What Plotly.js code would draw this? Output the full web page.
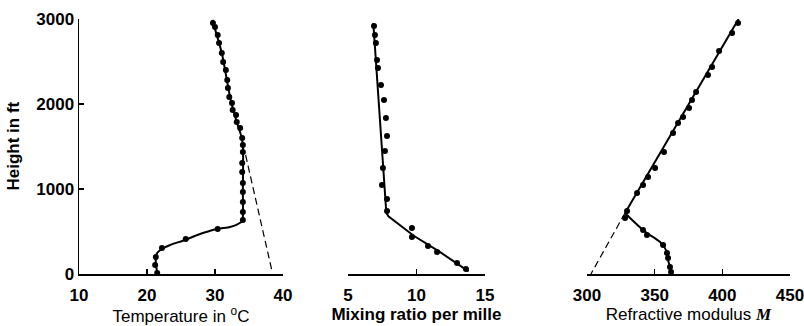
<!DOCTYPE html>
<html>
<head>
<meta charset="utf-8">
<script src="https://cdn.plot.ly/plotly-3.0.1.min.js"></script>
<style>html,body{margin:0;padding:0;background:#fff;}#chart{width:804px;height:326px;}</style>
</head>
<body>
<div id="chart"></div>
<script>
// ---- Panel 1: temperature (°C) vs height (ft) ----
var tempObsT = [29.7, 30.0, 30.4, 30.6, 31.0, 31.2, 31.6, 31.8, 31.9, 32.1, 32.5, 32.6, 33.1, 33.2, 33.7, 34.0, 34.1, 34.1, 34.0, 34.0, 34.1, 34.1, 34.1, 34.1, 34.1, 30.4, 25.7, 22.2, 21.3, 21.2, 21.5];
var tempObsH = [2953, 2906, 2812, 2718, 2600, 2494, 2400, 2282, 2188, 2082, 2012, 1929, 1871, 1788, 1718, 1600, 1518, 1435, 1306, 1200, 1071, 965, 847, 729, 635, 529, 412, 306, 200, 106, 12];
var tempFitT = [29.6, 31.0, 32.3, 33.2, 33.8, 34.1, 34.1, 34.1, 34.0, 33.3, 32.2, 30.3, 27.4, 25.6, 23.4, 22.2, 21.5, 21.3, 21.3, 21.5];
var tempFitH = [2990, 2600, 2050, 1790, 1640, 1520, 1000, 680, 620, 585, 553, 529, 459, 400, 341, 294, 247, 200, 130, 15];
var tempAdiabatT = [34.5, 38.4];
var tempAdiabatH = [1400, 30];

// ---- Panel 2: mixing ratio (per mille) vs height (ft) ----
var mixObsQ = [6.90, 6.97, 7.04, 7.12, 7.19, 7.41, 7.63, 7.77, 7.85, 7.70, 7.55, 7.48, 7.85, 7.85, 9.67, 9.67, 10.84, 11.50, 12.96, 13.61];
var mixObsH = [2918, 2812, 2718, 2518, 2424, 2224, 2047, 1835, 1624, 1447, 1247, 1047, 882, 741, 541, 435, 329, 259, 129, 59];
var mixFitQ = [6.85, 7.80, 7.95, 8.80, 9.80, 11.70, 13.80];
var mixFitH = [2950, 720, 680, 576, 450, 260, 30];

// ---- Panel 3: refractive modulus M vs height (ft) ----
var modObsM = [411.6, 407.2, 397.6, 392.4, 389.4, 380.6, 377.6, 375.4, 371.0, 367.3, 363.6, 356.9, 350.3, 345.1, 341.4, 337.0, 329.6, 328.1, 341.4, 344.3, 356.2, 359.1, 359.9, 361.3, 362.1];
var modObsH = [2953, 2835, 2624, 2435, 2341, 2141, 2047, 1953, 1847, 1776, 1659, 1435, 1247, 1141, 1047, 953, 741, 659, 518, 459, 341, 247, 188, 82, 24];
var modLineM = [412.0, 328.1];
var modLineH = [3000, 718];
var modCurveM = [328.1, 331.8, 341.4, 344.3, 354.0, 359.1, 359.9, 361.3, 362.1];
var modCurveH = [718, 659, 518, 482, 376, 259, 165, 82, 0];
var modDashM = [328.1, 302.9];
var modDashH = [718, 0];

// ---- axis ticks & titles ----
var heightTicks = [0, 1000, 2000, 3000];
var tempTicks = [10, 20, 30, 40];
var mixTicks = [5, 10, 15];
var modTicks = [300, 350, 400, 450];
var heightTitle = 'Height in ft';
var tempTitle = 'Temperature in <sup>o</sup>C';
var mixTitle = 'Mixing ratio per mille';
var modTitle = 'Refractive modulus <span style="font-family:\'Liberation Serif\',serif"><b><i>M</i></b></span>';

var FONT = 'Liberation Sans, Arial, sans-serif';
var marker = {color: '#000', size: 6, symbol: 'circle'};
var solid = {color: '#000', width: 2};
var dashed = {color: '#000', width: 1.2, dash: '7px,4px'};

var traces = [
  {x: tempAdiabatT, y: tempAdiabatH, xaxis: 'x', yaxis: 'y', mode: 'lines', line: dashed},
  {x: tempFitT, y: tempFitH, xaxis: 'x', yaxis: 'y', mode: 'lines', line: Object.assign({shape: 'spline', smoothing: 0.6}, solid)},
  {x: tempObsT, y: tempObsH, xaxis: 'x', yaxis: 'y', mode: 'markers', marker: marker},
  {x: mixFitQ, y: mixFitH, xaxis: 'x2', yaxis: 'y', mode: 'lines', line: solid},
  {x: mixObsQ, y: mixObsH, xaxis: 'x2', yaxis: 'y', mode: 'markers', marker: marker},
  {x: modDashM, y: modDashH, xaxis: 'x3', yaxis: 'y', mode: 'lines', line: dashed},
  {x: modLineM, y: modLineH, xaxis: 'x3', yaxis: 'y', mode: 'lines', line: solid},
  {x: modCurveM, y: modCurveH, xaxis: 'x3', yaxis: 'y', mode: 'lines', line: Object.assign({shape: 'spline', smoothing: 0.8}, solid)},
  {x: modObsM, y: modObsH, xaxis: 'x3', yaxis: 'y', mode: 'markers', marker: marker}
];
traces.forEach(function(t){ t.cliponaxis = false; t.hoverinfo = 'skip'; });

function xax(domain, range, ticks, title, bold) {
  return {
    domain: domain, range: range, tickvals: ticks, ticktext: ticks.map(String),
    anchor: 'y', showline: true, linecolor: '#000', linewidth: 1.5,
    ticks: 'inside', ticklen: 5, tickwidth: 1.3, tickcolor: '#000',
    ticklabelstandoff: 5, ticklabeloverflow: 'allow',
    showgrid: false, zeroline: false, fixedrange: true, automargin: false,
    tickfont: {family: FONT, size: 17, color: '#000', weight: 'bold'},
    title: {text: title, standoff: 2, font: {family: FONT, size: 17, color: '#000', weight: bold ? 'bold' : 'normal'}}
  };
}

var layout = {
  width: 804, height: 326,
  margin: {l: 79, r: 14, t: 19, b: 52, pad: 0},
  paper_bgcolor: '#fff', plot_bgcolor: '#fff',
  showlegend: false,
  font: {family: FONT, color: '#000'},
  xaxis: xax([0, 0.2869], [10, 40], tempTicks, tempTitle, false),
  xaxis2: xax([0.3783, 0.5710], [5, 15], mixTicks, mixTitle, true),
  xaxis3: xax([0.7145, 1], [300, 450], modTicks, modTitle, false),
  yaxis: {
    domain: [0, 1], range: [0, 3000], tickvals: heightTicks, ticktext: heightTicks.map(String),
    anchor: 'x', showline: true, linecolor: '#000', linewidth: 1.5,
    ticks: 'inside', ticklen: 5, tickwidth: 1.3, tickcolor: '#000',
    ticklabeloverflow: 'allow',
    showgrid: false, zeroline: false, fixedrange: true, automargin: false,
    tickfont: {family: FONT, size: 17, color: '#000', weight: 'bold'}
  },
  annotations: [
    {text: heightTitle, xref: 'paper', yref: 'paper', x: -0.0928, y: 0.5, textangle: -90, showarrow: false, xanchor: 'center', yanchor: 'middle', font: {family: FONT, size: 17, color: '#000', weight: 'bold'}}
  ]
};

Plotly.newPlot('chart', traces, layout, {staticPlot: true, displayModeBar: false});
</script>
</body>
</html>
